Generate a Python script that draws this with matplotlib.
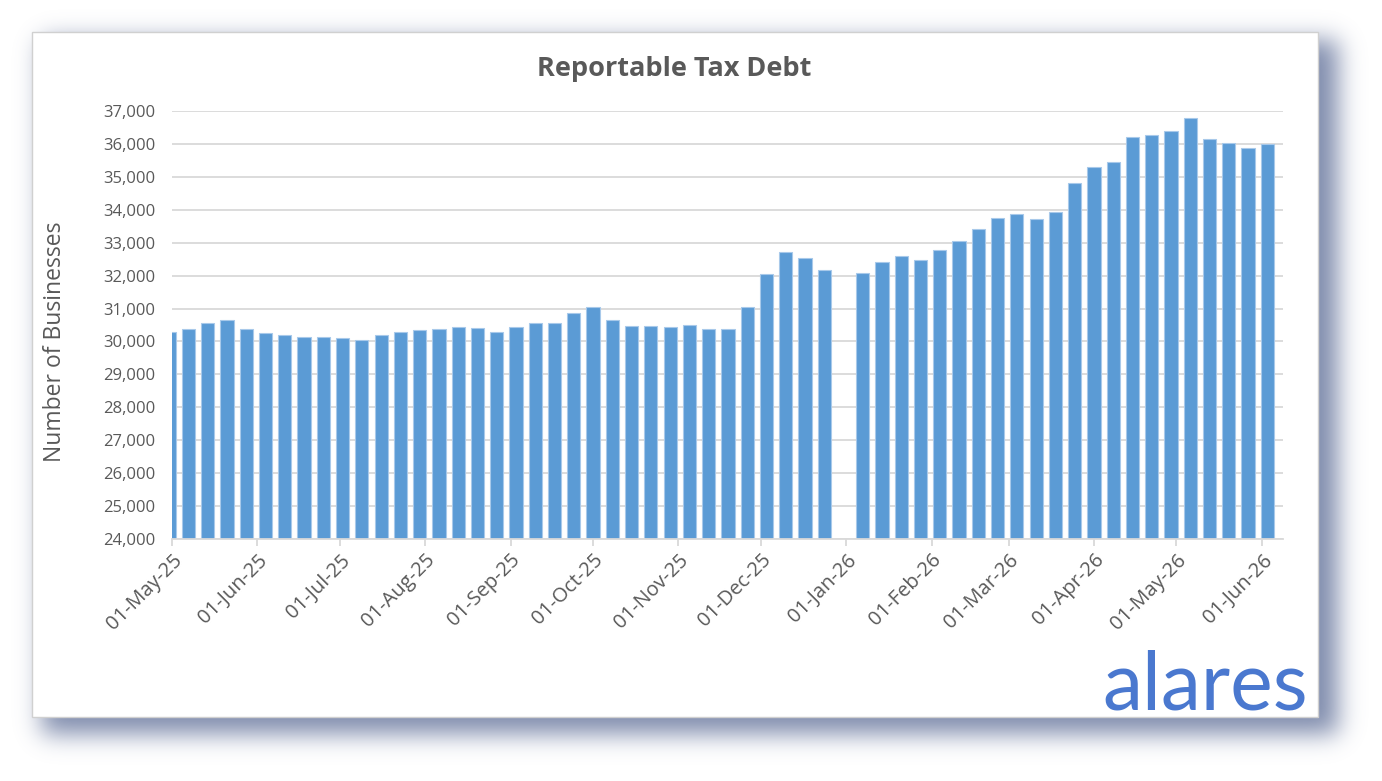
import math
import numpy as np
import pandas as pd
import matplotlib
matplotlib.use("Agg")
import matplotlib.pyplot as plt
import matplotlib.dates as mdates
from matplotlib.patches import Rectangle
from matplotlib.ticker import FuncFormatter

plt.rcParams['font.family'] = ['Open Sans', 'DejaVu Sans']

# weekly snapshots (Wednesdays); no figure for 31-Dec-25
weeks = pd.date_range("2025-04-30", "2026-06-03", freq="7D")
businesses = [
    30300, 30370, 30560, 30650, 30370, 30250, 30190, 30130, 30130, 30100,
    30040, 30190, 30280, 30340, 30370, 30430, 30400, 30280, 30430, 30560,
    30560, 30860, 31040, 30650, 30465, 30465, 30430, 30495, 30370, 30370,
    31040, 32040, 32730, 32550, 32160, None, 32070, 32425, 32610, 32460,
    32790, 33060, 33420, 33760, 33870, 33720, 33920, 34805, 35290, 35440,
    36200, 36260, 36390, 36780, 36140, 36030, 35870, 36000,
]
month_ticks = pd.date_range("2025-05-01", "2026-06-01", freq="MS")

TITLE = "Reportable Tax Debt"
YLABEL = "Number of Businesses"
LOGO = "alares"

GREY = "#595959"
GRID = "#d9d9d9"
BAR = "#5b9bd5"

W, H = 1382, 781
fig = plt.figure(figsize=(W / 100, H / 100), dpi=100)

# drop shadow behind the white panel
def soft_edge(n, a, b, s):
    t = np.arange(n) + 0.5
    erf = np.vectorize(math.erf)
    return 0.5 * (erf((t - a) / (s * math.sqrt(2))) - erf((t - b) / (s * math.sqrt(2))))

fx = soft_edge(W, 42, 1338, 12)
fy = soft_edge(H, 40, 734, 12)
alpha = np.outer(fy, fx) * 0.78
shadow = np.zeros((H, W, 4))
shadow[..., 0] = 92 / 255
shadow[..., 1] = 108 / 255
shadow[..., 2] = 150 / 255
shadow[..., 3] = alpha
bg = fig.add_axes([0, 0, 1, 1], zorder=-10)
bg.imshow(shadow, extent=(0, W, H, 0), interpolation="bilinear")
bg.set_xlim(0, W)
bg.set_ylim(H, 0)
bg.axis("off")
bg.add_patch(Rectangle((32, 32), 1318 - 32, 717 - 32, facecolor="white",
                       edgecolor="#d0d0d0", linewidth=1.0))

ax = fig.add_axes([172 / W, 1 - 539 / H, (1283 - 172) / W, (539 - 111) / H])
ax.patch.set_alpha(0)

dates = [d for d, v in zip(weeks, businesses) if v is not None]
vals = [v for v in businesses if v is not None]
ax.bar(mdates.date2num(dates), vals, width=4.8, color=BAR,
       edgecolor="#a8c9ea", linewidth=0.8, zorder=3)

start = pd.Timestamp("2025-05-01")
ax.set_xlim(mdates.date2num(start), mdates.date2num(start + pd.Timedelta(days=403.7)))
ax.set_ylim(24000, 37000)
ax.set_yticks(range(24000, 37001, 1000))
ax.yaxis.set_major_formatter(FuncFormatter(lambda v, p: f"{int(v):,}"))
ax.set_xticks(mdates.date2num(month_ticks))
ax.set_xticklabels([d.strftime("%d-%b-%y") for d in month_ticks],
                   rotation=45, ha="right", va="top", rotation_mode="anchor")

ax.grid(axis="y", color=GRID, linewidth=1.3, zorder=0)
for s in ["top", "right", "left"]:
    ax.spines[s].set_visible(False)
ax.spines["bottom"].set_color(GRID)
ax.spines["bottom"].set_linewidth(1.3)
ax.spines["bottom"].set_zorder(4)
ax.tick_params(axis="y", length=0, pad=12, labelsize=12, labelcolor=GREY)
ax.tick_params(axis="x", length=5, width=1.3, color=GRID, pad=3,
               labelsize=14.5, labelcolor=GREY)

fig.text(674 / W, 1 - 69 / H, TITLE, ha="center", va="center",
         fontsize=19.5, fontweight="bold", color=GREY)
fig.text(55 / W, 1 - 342 / H, YLABEL, ha="center", va="center",
         rotation=90, fontsize=16.5, color=GREY)
fig.text(1308 / W, 1 - 710 / H, LOGO, ha="right", va="baseline",
         fontsize=58, color="#4a78cf", family=["Lato", "DejaVu Sans"])

fig.savefig("out.png", dpi=100)
